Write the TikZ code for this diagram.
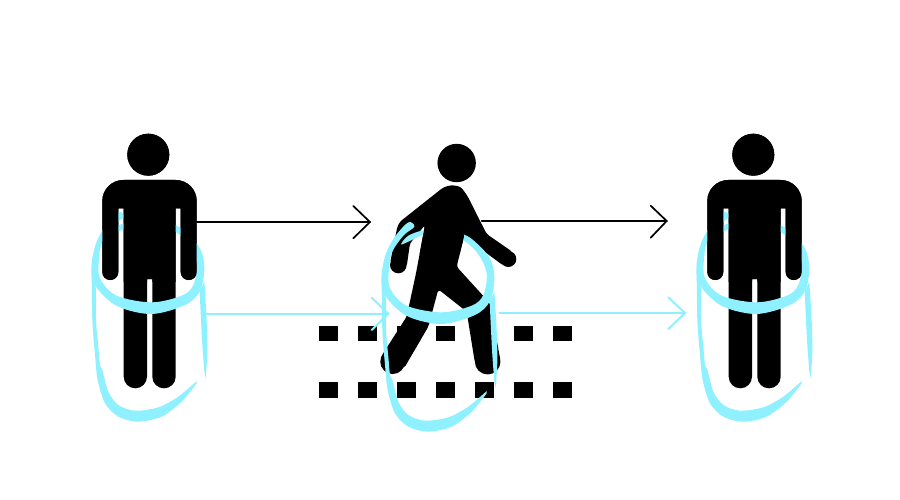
\documentclass[tikz,border=0pt]{standalone}
\definecolor{aqua}{RGB}{143,241,255}
\tikzset{
  barline/.style={draw=black,line width=1.7pt,line cap=round,line join=miter},
  aqualine/.style={draw=aqua,line width=2pt,line cap=round,line join=miter},
  figfill/.style={fill=black},
  aquafill/.style={fill=aqua},
  tile/.style={fill=black},
}
\newcommand{\aquabrush}{%
  \begin{scope}[shift={(85,205)},x=0.33333pt,y=-0.33333pt]
    \fill[aquafill] plot[smooth cycle,tension=.55] coordinates {
      (118,35) (100,22) (62,62) (35,110) (22,160) (20,210) (40,255) (100,305) (200,327) (300,300) (345,258)
      (358,190) (345,130) (300,80) (265,58) (200,42) (145,46) (100,62) (78,88) (100,80) (145,60) (200,56) (262,74)
      (310,118) (335,175) (325,240) (290,272) (200,292) (95,272) (45,220) (42,160) (52,110) (85,62)};
    \fill[aquafill] plot[smooth,tension=.5] coordinates {
      (20,200) (22,345) (30,450) (38,525) (60,595) (100,635) (160,650) (230,635) (290,590) (335,535)}
      -- plot[smooth,tension=.5] coordinates {
      (335,528) (280,575) (220,607) (150,617) (100,600) (70,560) (52,495) (45,480) (40,425) (33,345) (33,250)} -- cycle;
    \fill[aquafill] plot[smooth,tension=.5] coordinates {(358,230) (365,345) (367,440) (362,520)}
      -- plot[smooth,tension=.5] coordinates {(358,500) (352,420) (348,345) (344,260)} -- cycle;
  \end{scope}}
\newcommand{\standing}{%
  \fill[figfill] (148.3,154.7) circle[radius=21pt];
  \fill[figfill] {[rounded corners=21pt] (102.3,240) -- (102.3,180) -- (196.7,180) -- (196.7,240)}
    {[rounded corners=7.9pt] -- (196.7,280) -- (180.7,280) -- (180.7,260)}
    -- (180.7,208.3) -- (175.7,208.3) -- (175.7,300)
    {[rounded corners=11.6pt] -- (175.7,388.3) -- (152.3,388.3) -- (152.3,340)}
    -- (152.3,279) -- (147,279) -- (147,340)
    {[rounded corners=11.6pt] -- (147,388.3) -- (123.7,388.3) -- (123.7,300)}
    -- (123.7,208.3) -- (118.3,208.3) -- (118.3,260)
    {[rounded corners=7.9pt] -- (118.3,280) -- (102.3,280) -- (102.3,240)} -- cycle;}
\newcommand{\ringedman}{%
  \standing
  \aquabrush
  \begin{scope}
    \clip (90,120) rectangle (210,281);
    \standing
  \end{scope}}
\begin{document}
\begin{tikzpicture}[x=1pt,y=-1pt]
\useasboundingbox (0,0) rectangle (900,500);
% dashes
\foreach \i in {0,...,6}{
  \fill[tile] ({319+39*\i},325.7) rectangle ++(19.3,15.6);
  \fill[tile] ({319+39*\i},382.3) rectangle ++(19.3,15.7);
}
% left figure
\ringedman
% right figure
\begin{scope}[shift={(605,0)}]
  \ringedman
\end{scope}
% walker
\begin{scope}[shift={(310,130)},x=0.33333pt,y=-0.33333pt]
  \fill[figfill] (440,99) circle[radius=19.2pt];
  \fill[figfill,rounded corners=3pt] (400,172) -- (425,165) -- (452,170) -- (472,197) -- (530,312) -- (608,366) -- (582,408)
    -- (462,320) -- (440,410) -- (540,520) -- (572,695) -- (495,700) -- (470,545) -- (385,478) -- (355,590)
    -- (282,715) -- (213,680) -- (290,560) -- (318,430) -- (345,285) -- (300,340) -- (290,410) -- (240,400)
    -- (262,290) -- (270,275) -- cycle;
  \fill[figfill] (595,387) circle[radius=8pt];
  \fill[figfill] (533,695) circle[radius=12.8pt];
  \fill[figfill] (248,695) circle[radius=12.4pt];
  \fill[figfill] (265,405) circle[radius=8.3pt];
\end{scope}
\begin{scope}[shift={(290,10)}]
  \aquabrush
\end{scope}
% torso in front of the back of the ring
\begin{scope}[shift={(310,130)},x=0.33333pt,y=-0.33333pt]
  \fill[figfill] (350,265) -- (455,265) -- (462,320) -- (449,372) -- (329,372) -- (345,285) -- cycle;
\end{scope}
% connectors
\coordinate (ka) at (197,222);
\coordinate (kb) at (370,222);
\coordinate (kc) at (481.7,221);
\coordinate (kd) at (666.7,221);
\coordinate (ke) at (305,222);
\coordinate (kf) at (316,222);
\coordinate (kg) at (603,221);
\coordinate (kh) at (615,221);
\coordinate (aa) at (206.7,313.7);
\coordinate (ab) at (388.3,313.7);
\coordinate (ac) at (499.3,313);
\coordinate (ad) at (685,313);
\draw[barline] (ka) -- (kb);
\draw[barline,line width=2.3pt,line cap=butt] (ke) -- (kf);
\draw[barline] (353.3,206) -- (kb) -- (353.3,238.3);
\draw[barline] (kc) -- (kd);
\draw[barline,line width=2.3pt,line cap=butt] (kg) -- (kh);
\draw[barline] (650.7,205.7) -- (kd) -- (650.7,237.7);
\draw[aqualine] (aa) -- (ab);
\draw[aqualine] (371.7,297.7) -- (ab) -- (371.7,330);
\draw[aqualine] (ac) -- (ad);
\draw[aqualine] (668.3,297.3) -- (ad) -- (668.3,329);
\end{tikzpicture}
\end{document}
